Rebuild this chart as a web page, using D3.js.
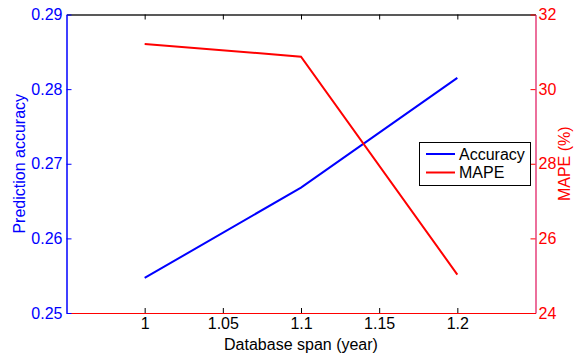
<!DOCTYPE html>
<html>
<head>
<meta charset="utf-8">
<script src="https://cdn.jsdelivr.net/npm/d3@7"></script>
<style>
  html, body { margin: 0; padding: 0; background: #fff; }
  svg { display: block; font-family: "Liberation Sans", Arial, Helvetica, sans-serif; }
</style>
</head>
<body>
<svg id="chart" width="574" height="356"></svg>
<script>
// Database span (years) on the x axis
const spans = [1, 1.1, 1.2];
// Prediction accuracy (left axis)
const accuracy = [0.2547, 0.2668, 0.2815];
// MAPE in percent (right axis)
const mape = [31.21, 30.87, 25.03];

const xTicks = [1, 1.05, 1.1, 1.15, 1.2];
const leftTicks = [0.25, 0.26, 0.27, 0.28, 0.29];
const rightTicks = [24, 26, 28, 30, 32];
const seriesNames = ["Accuracy", "MAPE"];

const W = 574, H = 356;
const plot = { left: 66.5, right: 535.5, top: 14.5, bottom: 313 };
const BLUE = "#0000ff", RED = "#ff0000";

const svg = d3.select("#chart");

const x = d3.scaleLinear().domain([0.95, 1.25]).range([plot.left, plot.right]);
const yL = d3.scaleLinear().domain([0.25, 0.29]).range([plot.bottom, plot.top]);
const yR = d3.scaleLinear().domain([24, 32]).range([plot.bottom, plot.top]);

// top frame edge with inward ticks
const topAxis = svg.append("g")
  .attr("transform", `translate(0,${plot.top})`)
  .call(d3.axisTop(x).tickValues(xTicks).tickSize(-5).tickSizeOuter(0).tickFormat(""));
topAxis.select(".domain").attr("stroke", "#222").attr("stroke-width", 1.5);
topAxis.selectAll(".tick line").attr("stroke", "#000");

// bottom axis: black ticks and labels
const bottomAxis = svg.append("g")
  .attr("transform", `translate(0,${plot.bottom})`)
  .call(d3.axisBottom(x).tickValues(xTicks).tickSize(-5).tickSizeOuter(0).tickPadding(5)
    .tickFormat(d => String(d)));
bottomAxis.select(".domain").attr("stroke", RED).attr("stroke-width", 1.2);
bottomAxis.selectAll(".tick line").attr("stroke", "#000");
bottomAxis.selectAll(".tick text").attr("fill", "#000").attr("font-size", 16)
  .attr("font-family", "Liberation Sans, Arial, sans-serif");

// left axis (accuracy, blue)
const leftAxis = svg.append("g")
  .attr("transform", `translate(${plot.left},0)`)
  .call(d3.axisLeft(yL).tickValues(leftTicks).tickSize(-5).tickSizeOuter(0).tickPadding(4)
    .tickFormat(d3.format(".2f")));
leftAxis.select(".domain").attr("stroke", BLUE).attr("stroke-width", 1.5);
leftAxis.selectAll(".tick line").attr("stroke", BLUE);
leftAxis.selectAll(".tick text").attr("fill", BLUE).attr("font-size", 16)
  .attr("font-family", "Liberation Sans, Arial, sans-serif");

// right axis (MAPE, red)
const rightAxis = svg.append("g")
  .attr("transform", `translate(${plot.right},0)`)
  .call(d3.axisRight(yR).tickValues(rightTicks).tickSize(-5).tickSizeOuter(0).tickPadding(3)
    .tickFormat(d3.format("d")));
rightAxis.select(".domain").attr("stroke", "#e0105a").attr("stroke-width", 1.2);
rightAxis.selectAll(".tick line").attr("stroke", RED);
rightAxis.selectAll(".tick text").attr("fill", RED).attr("font-size", 16)
  .attr("font-family", "Liberation Sans, Arial, sans-serif");

// series lines
const lineL = d3.line().x((d, i) => x(spans[i])).y(d => yL(d));
const lineR = d3.line().x((d, i) => x(spans[i])).y(d => yR(d));

svg.append("path").datum(accuracy)
  .attr("d", lineL).attr("fill", "none").attr("stroke", BLUE).attr("stroke-width", 2);
svg.append("path").datum(mape)
  .attr("d", lineR).attr("fill", "none").attr("stroke", RED).attr("stroke-width", 2);

// axis titles
svg.append("text")
  .attr("x", (plot.left + plot.right) / 2).attr("y", 350)
  .attr("text-anchor", "middle").attr("font-size", 16).attr("fill", "#000")
  .text("Database span (year)");

svg.append("text")
  .attr("transform", `translate(24.5,${(plot.top + plot.bottom) / 2}) rotate(-90)`)
  .attr("text-anchor", "middle").attr("font-size", 16).attr("fill", BLUE)
  .text("Prediction accuracy");

svg.append("text")
  .attr("transform", `translate(569.5,${(plot.top + plot.bottom) / 2}) rotate(-90)`)
  .attr("text-anchor", "middle").attr("font-size", 16).attr("fill", RED)
  .text("MAPE (%)");

// legend
const legend = svg.append("g").attr("transform", "translate(419.5,142.5)");
legend.append("rect")
  .attr("width", 111).attr("height", 43)
  .attr("fill", "#fff").attr("stroke", "#000").attr("stroke-width", 1);
const colors = [BLUE, RED];
seriesNames.forEach((name, i) => {
  const cy = 11.5 + i * 18.5;
  legend.append("line")
    .attr("x1", 6.5).attr("x2", 35.5).attr("y1", cy).attr("y2", cy)
    .attr("stroke", colors[i]).attr("stroke-width", 2);
  legend.append("text")
    .attr("x", 39.5).attr("y", cy + 5.8)
    .attr("font-size", 16).attr("fill", "#000")
    .text(name);
});
</script>
</body>
</html>
